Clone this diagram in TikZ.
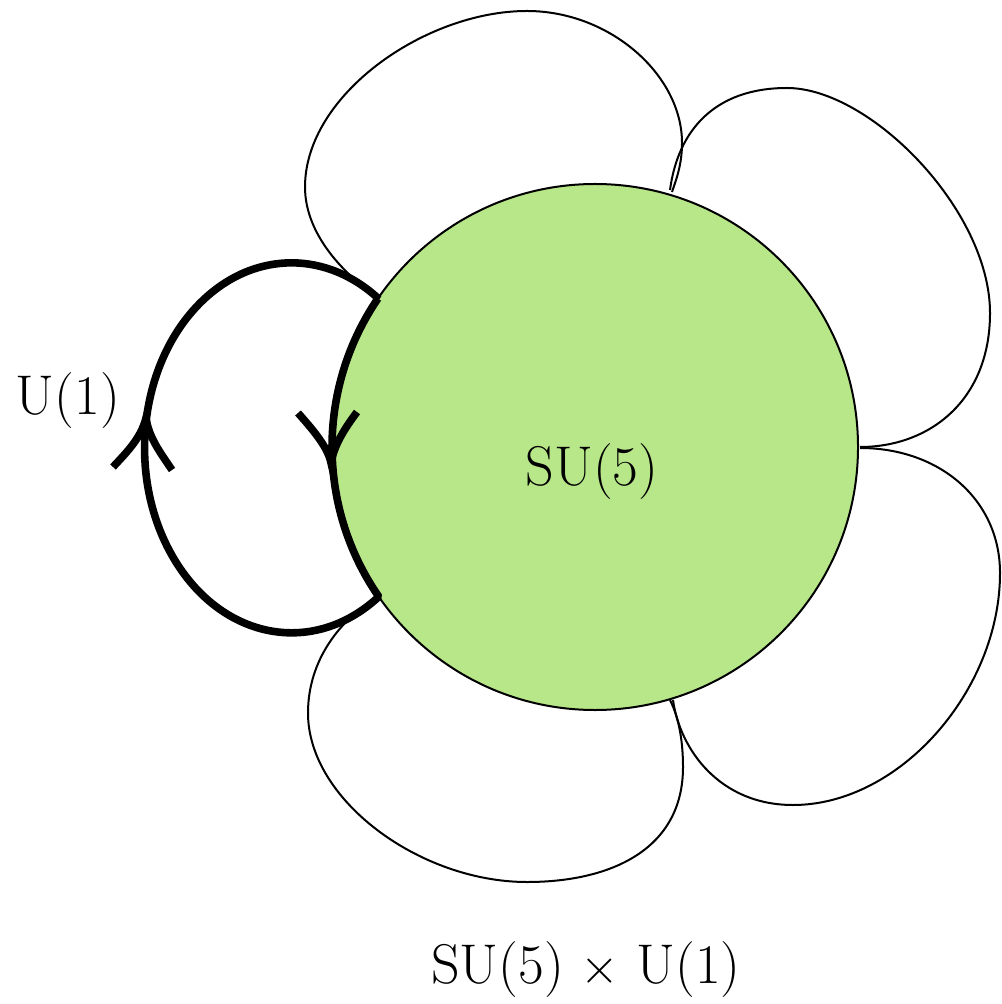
\documentclass[tikz,border=0pt]{standalone}
\usepackage{fontspec}
\definecolor{leaf}{RGB}{184,231,137}
\tikzset{
  petal/.style={line width=1pt, line join=round},
  loopline/.style={line width=3.8pt, line join=bevel},
  chev/.style={line width=3.8pt, line cap=butt},
  lbl/.style={anchor=base, inner sep=0pt, font=\fontsize{28}{32}\selectfont}
}
\begin{document}
\begin{tikzpicture}[x=0.5pt, y=-0.5pt]
\useasboundingbox (0,0) rectangle (1001,1004);
% petals
\draw[petal] (377,297) .. controls (345,275) and (305,235) .. (305,187)
  .. controls (305,95) and (425,11) .. (527,11)
  .. controls (610,11) and (682,75) .. (682,143)
  .. controls (682,165) and (676,180) .. (672,192);
\draw[petal] (670,190) .. controls (678,130) and (715,88) .. (787,88)
  .. controls (870,88) and (990,210) .. (990,313)
  .. controls (990,400) and (930,447) .. (860,447);
\draw[petal] (860,448) .. controls (940,448) and (1000,500) .. (1000,573)
  .. controls (1000,690) and (900,805) .. (793,805)
  .. controls (720,805) and (680,750) .. (673,700);
\draw[petal] (670,700) .. controls (680,720) and (683,745) .. (683,767)
  .. controls (683,850) and (610,882) .. (527,882)
  .. controls (420,882) and (308,800) .. (308,713)
  .. controls (308,660) and (340,620) .. (377,597);
% central circle
\node[draw, circle, fill=leaf, line width=1pt, minimum size=263pt, inner sep=0pt] (c) at (595,447) {};
% thick U(1) loop
\draw[loopline] (c.center) ++(214.35:263) coordinate (j1)
  arc[start angle=214.35, end angle=145.3, radius=263] coordinate (j2)
  arc[start angle=53.6, end angle=306.4, x radius=147, y radius=185] -- (j1);
% arrowheads
\draw[chev] (298,413) .. controls (315,432) and (328,448) .. (331,463)
            .. controls (334,445) and (345,428) .. (357,412);
\draw[chev] (113,467) .. controls (127,452) and (141,438) .. (146,418)
            .. controls (149,438) and (160,452) .. (172,470);
% labels
\node[lbl] (su5) at (592,485) {SU(5)};
\node[lbl] (u1) at (68,415) {U(1)};
\node[lbl] (prod) at (586,983) {SU(5)~$\times$~U(1)};
\end{tikzpicture}
\end{document}
